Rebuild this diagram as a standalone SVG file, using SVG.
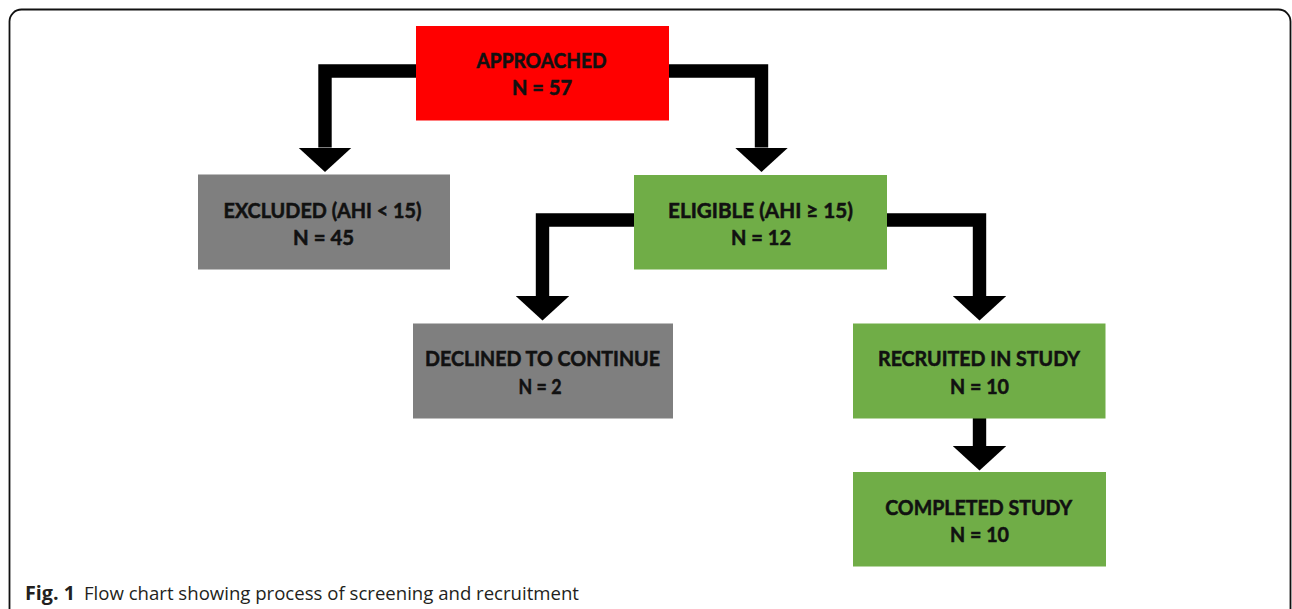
<svg xmlns="http://www.w3.org/2000/svg" width="1292" height="609" viewBox="0 0 1292 609">
  <style>
    .frame { fill: none; stroke: #111; stroke-width: 1.8; }
    .box-red { fill: #FF0000; }
    .box-gray { fill: #7F7F7F; }
    .box-green { fill: #70AD47; }
    .lbl { font-family: Lato, "Liberation Sans", sans-serif; font-weight: bold; font-size: 21px; fill: #111; stroke: #111; stroke-width: 0.55; text-anchor: middle; }
    .conn { fill: none; stroke: #000; stroke-width: 13.4; stroke-linejoin: miter; stroke-linecap: butt; }
    .cap { font-family: "Open Sans", "Liberation Sans", sans-serif; font-size: 19px; fill: #231F20; }
  </style>
  <defs>
    <marker id="head" markerUnits="userSpaceOnUse" viewBox="0 0 24.5 53.5" markerWidth="24.5" markerHeight="53.5" refX="0" refY="26.75" orient="auto">
      <path d="M0,0 L24.5,26.75 L0,53.5 Z" fill="#000"/>
    </marker>
  </defs>
  <rect x="0" y="0" width="1292" height="609" fill="#fff"/>
  <rect class="frame" x="9.5" y="9.5" width="1281" height="650" rx="12" ry="12"/>

  <g id="connectors">
    <polyline class="conn" points="416,71 325,71 325,147.5" marker-end="url(#head)"/>
    <polyline class="conn" points="669,71 761.5,71 761.5,147.5" marker-end="url(#head)"/>
    <polyline class="conn" points="634,220 542.5,220 542.5,296" marker-end="url(#head)"/>
    <polyline class="conn" points="887,220 979.5,220 979.5,296" marker-end="url(#head)"/>
    <polyline class="conn" points="979.5,418 979.5,446" marker-end="url(#head)"/>
  </g>

  <g id="approached">
    <rect class="box-red" x="416" y="26" width="253" height="94.5"/>
    <text class="lbl" x="541.5" y="67.5" textLength="130" lengthAdjust="spacingAndGlyphs">APPROACHED</text>
    <text class="lbl" x="542" y="95" textLength="60" lengthAdjust="spacingAndGlyphs">N = 57</text>
  </g>
  <g id="excluded">
    <rect class="box-gray" x="198" y="174.5" width="252" height="95"/>
    <text class="lbl" x="322.5" y="217.5" textLength="198" lengthAdjust="spacingAndGlyphs">EXCLUDED (AHI &lt; 15)</text>
    <text class="lbl" x="323.5" y="244.5" textLength="61" lengthAdjust="spacingAndGlyphs">N = 45</text>
  </g>
  <g id="eligible">
    <rect class="box-green" x="634" y="175" width="253" height="94.5"/>
    <text class="lbl" x="760.5" y="217.5" textLength="185" lengthAdjust="spacingAndGlyphs">ELIGIBLE (AHI ≥ 15)</text>
    <text class="lbl" x="761" y="244.5" textLength="60" lengthAdjust="spacingAndGlyphs">N = 12</text>
  </g>
  <g id="declined">
    <rect class="box-gray" x="413" y="323.5" width="260" height="95"/>
    <text class="lbl" x="542.5" y="366" textLength="235" lengthAdjust="spacingAndGlyphs">DECLINED TO CONTINUE</text>
    <text class="lbl" x="540" y="393.5" textLength="43" lengthAdjust="spacingAndGlyphs">N = 2</text>
  </g>
  <g id="recruited">
    <rect class="box-green" x="853" y="323.5" width="252.5" height="95"/>
    <text class="lbl" x="979" y="366" textLength="202" lengthAdjust="spacingAndGlyphs">RECRUITED IN STUDY</text>
    <text class="lbl" x="979.5" y="393.5" textLength="59" lengthAdjust="spacingAndGlyphs">N = 10</text>
  </g>
  <g id="completed">
    <rect class="box-green" x="853" y="472" width="253" height="94.5"/>
    <text class="lbl" x="978.7" y="514.5" textLength="187" lengthAdjust="spacingAndGlyphs">COMPLETED STUDY</text>
    <text class="lbl" x="979.5" y="542" textLength="59" lengthAdjust="spacingAndGlyphs">N = 10</text>
  </g>

  <text class="cap" x="25" y="600" font-weight="bold" textLength="50" lengthAdjust="spacingAndGlyphs">Fig. 1</text>
  <text class="cap" x="84" y="600" textLength="495" lengthAdjust="spacingAndGlyphs">Flow chart showing process of screening and recruitment</text>
</svg>
